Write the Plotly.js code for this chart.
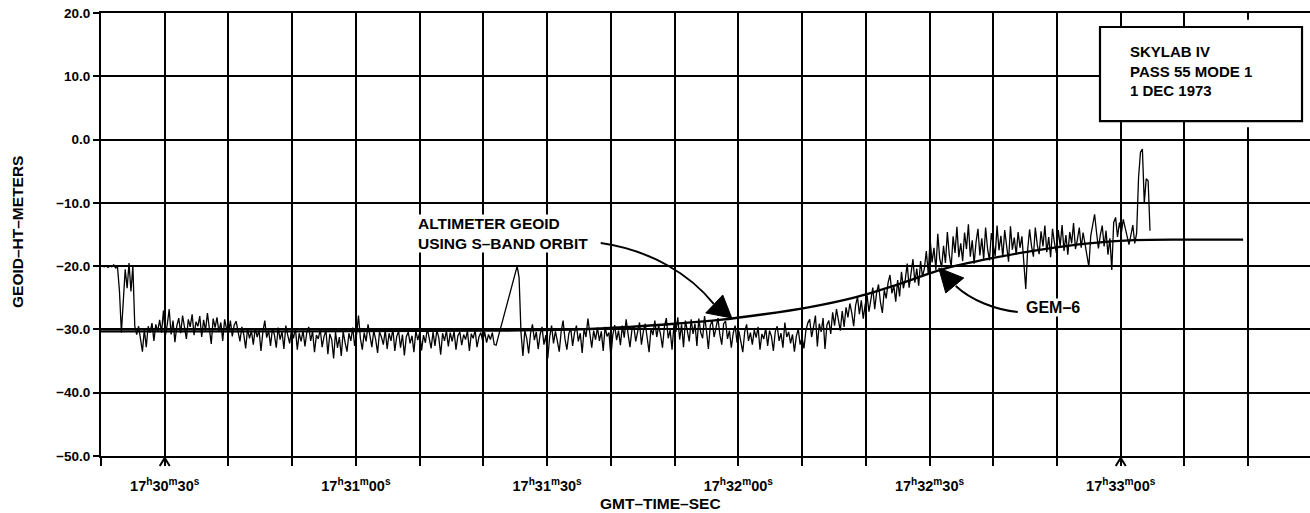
<!DOCTYPE html>
<html>
<head>
<meta charset="utf-8">
<script src="https://cdn.plot.ly/plotly-3.0.1.min.js"></script>
<style>html,body{margin:0;padding:0;background:#fff;}#chart{width:1310px;height:513px;}</style>
</head>
<body>
<div id="chart"></div>
<script>
// ---- DATA (seconds after 17h30m00s GMT, geoid height in metres) ----
// labelled x ticks (every 30 s); minor grid every 10 s from gridStart
const tickSec = [30, 60, 90, 120, 150, 180];
const tickText = ['17<sup>h</sup>30<sup>m</sup>30<sup>s</sup>', '17<sup>h</sup>31<sup>m</sup>00<sup>s</sup>',
  '17<sup>h</sup>31<sup>m</sup>30<sup>s</sup>', '17<sup>h</sup>32<sup>m</sup>00<sup>s</sup>',
  '17<sup>h</sup>32<sup>m</sup>30<sup>s</sup>', '17<sup>h</sup>33<sup>m</sup>00<sup>s</sup>'];
const gridStart = 20, gridStep = 10;
const yTicks = [-50, -40, -30, -20, -10, 0, 10, 20];
// ticks marked with a caret
const caretSec = [30, 180];

// GEM-6 model geoid
const gemSec = [20, 50, 80, 95, 103, 110, 117, 124, 131, 138, 145, 152, 160, 168, 175, 182, 190, 199.2];
const gemHt  = [-30.3, -30.3, -30.2, -30.0, -29.6, -29.1, -28.5, -27.6, -26.5, -25.0, -22.9, -20.5, -18.7, -17.3, -16.4, -15.9, -15.8, -15.8];

// Altimeter geoid using S-band orbit, sampled every 0.3 s from 20.2 s
const altStart = 20.2, altStep = 0.3;
const alt1 = [ // 20.2 - 50.2 s
 -20.0,-20.1,-19.9,-20.2,-20.0,-20.1,-19.8,-20.3,-20.2,-24.0,
 -30.5,-25.0,-20.5,-23.5,-19.5,-24.0,-20.0,-29.5,-30.8,-29.5,
 -31.5,-33.5,-30.0,-32.8,-29.5,-30.5,-29.0,-31.8,-29.2,-30.3,
 -28.5,-30.5,-27.0,-31.0,-29.2,-26.8,-30.8,-28.6,-32.0,-29.4,
 -28.2,-30.6,-27.8,-29.8,-31.5,-28.4,-29.6,-27.6,-30.9,-28.8,
 -29.5,-27.9,-31.2,-28.5,-30.2,-27.4,-29.8,-32.3,-28.3,-29.7,
 -28.1,-30.4,-28.9,-31.8,-28.4,-29.9,-30.6,-28.6,-31.1,-29.3,
 -28.7,-30.3,-31.9,-29.6,-30.8,-33.0,-29.9,-31.4,-30.2,-32.4,
 -29.8,-31.2,-30.1,-33.4,-30.4,-28.6,-31.3,-30.2,-32.6,-29.9,
 -30.8,-32.9,-29.7,-31.6,-30.3,-33.1,-29.4,-30.9,-32.2,-30.1];
const alt2 = [ // 50.2 - 80.2 s
 -31.4,-29.8,-33.2,-30.6,-31.9,-30.2,-32.7,-30.4,-29.6,-31.8,
 -30.3,-33.6,-30.9,-31.5,-29.9,-32.8,-31.1,-30.2,-33.9,-30.7,
 -31.6,-34.6,-30.4,-32.9,-31.2,-34.2,-30.3,-32.1,-33.5,-30.6,
 -31.8,-29.7,-32.6,-30.8,-27.8,-31.4,-33.2,-30.5,-31.9,-29.2,
 -30.9,-32.8,-30.2,-31.6,-33.7,-30.4,-31.2,-32.4,-30.1,-33.1,
 -30.6,-31.8,-29.9,-33.4,-31.1,-30.3,-32.9,-30.8,-34.1,-31.2,
 -30.4,-32.2,-31.0,-33.6,-30.2,-31.7,-30.5,-33.3,-30.9,-32.1,
 -29.8,-31.5,-33.0,-30.4,-32.6,-30.1,-31.3,-34.0,-30.6,-31.8,
 -30.2,-32.7,-30.5,-31.9,-30.3,-33.2,-31.0,-30.4,-32.5,-30.8,
 -31.6,-30.2,-33.4,-30.7,-31.4,-30.1,-32.8,-31.2,-30.5,-31.9];
const alt3 = [ // 80.2 - 110.2 s
 -30.4,-32.1,-30.8,-31.6,-30.5,-32.4,-32.5,-31.3,-30.2,-29.1,
 -28.0,-26.9,-25.8,-24.7,-23.5,-22.4,-21.3,-20.0,-21.8,-30.5,
 -34.2,-30.2,-31.4,-33.8,-30.6,-29.2,-31.7,-30.4,-33.1,-30.8,
 -29.6,-32.4,-30.9,-34.6,-31.2,-29.4,-32.2,-30.3,-31.8,-33.5,
 -30.4,-28.6,-31.5,-33.2,-30.7,-29.8,-32.6,-30.5,-29.4,-31.9,
 -30.6,-33.7,-29.9,-31.2,-28.3,-30.8,-32.9,-30.2,-31.6,-29.7,
 -31.8,-30.3,-33.4,-29.6,-31.1,-30.5,-34.3,-30.9,-29.3,-31.7,
 -30.2,-32.5,-29.4,-31.3,-28.4,-30.7,-32.8,-30.1,-29.5,-31.9,
 -30.6,-28.9,-32.4,-30.3,-29.1,-31.5,-33.6,-29.8,-30.9,-28.6,
 -31.2,-29.4,-30.8,-32.9,-29.6,-28.2,-31.4,-30.1,-33.2,-29.3];
const alt4 = [ // 110.2 - 140.2 s
 -30.4,-28.1,-31.6,-29.2,-32.8,-28.6,-30.3,-31.9,-28.4,-30.7,
 -29.1,-32.6,-28.3,-30.5,-31.4,-27.9,-30.2,-33.1,-29.4,-28.6,
 -31.2,-29.5,-28.2,-30.8,-32.4,-29.1,-28.7,-31.5,-30.2,-32.9,
 -30.6,-29.4,-32.1,-30.3,-31.7,-33.6,-30.4,-29.2,-31.8,-30.5,
 -32.4,-30.1,-31.3,-29.6,-33.2,-30.7,-31.5,-29.8,-32.6,-30.2,
 -31.1,-33.4,-30.3,-29.5,-31.8,-30.6,-32.9,-28.9,-31.2,-30.4,
 -32.2,-30.8,-33.5,-31.1,-29.9,-32.4,-31.3,-33.0,-30.2,-29.0,
 -28.4,-31.2,-29.6,-27.8,-32.7,-29.1,-30.4,-28.2,-33.1,-29.3,
 -28.6,-30.7,-27.3,-29.4,-26.8,-28.9,-30.2,-27.1,-29.6,-26.5,
 -28.1,-25.9,-27.4,-29.5,-26.2,-24.9,-27.6,-25.4,-28.3,-26.1];
const alt5 = [ // 140.2 - 170.2 s
 -24.6,-27.2,-25.3,-23.4,-26.8,-24.2,-22.9,-25.7,-27.4,-23.8,
 -25.1,-22.6,-21.4,-24.3,-23.1,-25.6,-22.2,-24.8,-20.9,-23.5,
 -22.1,-19.6,-23.4,-21.2,-18.9,-22.6,-20.4,-23.1,-19.2,-21.7,
 -20.3,-17.6,-21.2,-15.8,-19.4,-17.1,-20.6,-14.9,-18.8,-20.2,
 -16.8,-19.5,-14.6,-18.2,-20.1,-15.3,-17.9,-13.8,-18.6,-16.4,
 -19.2,-14.7,-17.3,-13.4,-18.5,-15.9,-19.6,-16.2,-14.1,-18.3,
 -15.6,-18.9,-13.9,-17.2,-19.1,-14.8,-16.7,-18.4,-13.6,-17.5,
 -15.2,-18.6,-14.3,-16.9,-19.3,-13.7,-17.4,-15.5,-18.2,-14.6,
 -17.1,-15.3,-18.8,-23.6,-17.4,-14.2,-16.8,-18.5,-13.9,-16.6,
 -18.1,-14.5,-16.9,-13.6,-17.8,-15.4,-18.6,-14.1,-16.3,-17.9];
const alt6 = [ // 170.2 - 184.6 s
 -14.3,-16.8,-13.5,-17.6,-15.1,-18.2,-14.6,-16.4,-13.2,-17.3,
 -15.8,-13.9,-17.1,-14.7,-16.5,-18.3,-20.1,-15.2,-13.4,-11.8,
 -14.6,-17.2,-15.1,-13.6,-16.9,-14.4,-18.2,-15.6,-20.6,-13.1,
 -12.3,-15.4,-13.1,-14.8,-12.6,-13.9,-15.2,-16.6,-15.1,-13.5,
 -16.4,-14.8,-6.0,-2.0,-1.5,-10.0,-6.2,-6.5,-14.4];

const altHt = [].concat(alt1, alt2, alt3, alt4, alt5, alt6);

// ---- CHART ----
const BLACK = '#000';
const F = 'Liberation Sans, Arial, Helvetica, sans-serif';
const bold = (size) => ({family:F, size:size, color:BLACK, weight:'bold'});

const traces = [
  {type:'scatter', mode:'lines', name:'GEM-6', x:gemSec, y:gemHt,
   line:{color:BLACK, width:2.3, shape:'spline'}, hoverinfo:'skip'},
  {type:'scatter', mode:'lines', name:'Altimeter geoid', x0:altStart, dx:altStep, y:altHt,
   line:{color:BLACK, width:1.3}, hoverinfo:'skip'}
];

const shapes = [
  // curved leader: altimeter geoid
  {type:'path', xref:'x', yref:'y', path:'M98.41,-16.34 C106.26,-17.45 112.54,-21.40 116.14,-25.98',
   line:{color:BLACK, width:2}},
  {type:'path', xref:'x', yref:'y', path:'M118.97,-28.19 L117.56,-24.56 L114.89,-27.40 Z',
   fillcolor:BLACK, line:{color:BLACK, width:1}},
  // curved leader: GEM-6
  {type:'path', xref:'x', yref:'y', path:'M163.85,-27.24 C160.4,-26.93 156.47,-25.35 154.12,-23.13',
   line:{color:BLACK, width:2}},
  {type:'path', xref:'x', yref:'y', path:'M151.45,-20.29 L152.55,-24.24 L155.37,-21.87 Z',
   fillcolor:BLACK, line:{color:BLACK, width:1}},
  // label box
  {type:'rect', xref:'paper', yref:'paper', x0:0.9, x1:1.0, y0:0.742, y1:0.985,
   fillcolor:'#fff', line:{width:0}, layer:'above'},
  {type:'rect', xref:'paper', yref:'paper', x0:0.8263, x1:0.9934, y0:0.756, y1:0.9684,
   fillcolor:'#fff', line:{color:BLACK, width:2.2}, layer:'above'}
];
// caret marks under two ticks (paper y so they are not clipped)
caretSec.forEach(s => shapes.push({type:'path', xref:'x', yref:'paper', xsizemode:'pixel', ysizemode:'pixel',
  xanchor:s, yanchor:0, path:'M-5,-10 L0,-2 L5,-10', line:{color:BLACK, width:2}, layer:'above'}));

const annotations = [
  {xref:'x', yref:'y', x:69.6, y:-14.9, xanchor:'left', yanchor:'middle', align:'left', showarrow:false,
   bgcolor:'#fff', borderpad:0,
   text:'ALTIMETER GEOID<br>USING S\u2013BAND ORBIT', font:bold(15.5)},
  {xref:'x', yref:'y', x:165.0, y:-26.6, xanchor:'left', yanchor:'middle', showarrow:false,
   bgcolor:'#fff', borderpad:0,
   text:'GEM\u20136', font:bold(16)},
  {xref:'paper', yref:'paper', x:0.8495, y:0.868, xanchor:'left', yanchor:'middle', align:'left', showarrow:false,
   text:'SKYLAB IV<br>PASS 55 MODE 1<br>1 DEC 1973', font:bold(15)},
  {xref:'paper', yref:'paper', x:0.4624, y:0, yshift:-47, xanchor:'center', yanchor:'middle', showarrow:false,
   text:'GMT\u2013TIME\u2013SEC', font:bold(15.5)},
  {xref:'paper', yref:'paper', x:-0.0695, y:0.5056, xanchor:'center', yanchor:'middle', textangle:-90, showarrow:false,
   text:'GEOID\u2013HT\u2013METERS', font:bold(15.5)}
];

const layout = {
  width:1310, height:513,
  margin:{l:101, r:0, t:13, b:57},
  paper_bgcolor:'#fff', plot_bgcolor:'#fff',
  showlegend:false,
  font:bold(13),
  xaxis:{range:[20, 209.7], tickmode:'array', tickvals:tickSec, ticktext:tickText,
    showgrid:true, gridcolor:BLACK, gridwidth:2, zeroline:false,
    showline:true, linecolor:BLACK, linewidth:2, mirror:true,
    ticks:'outside', ticklen:8, tickwidth:2, tickcolor:BLACK, ticklabelstandoff:8,
    tickfont:bold(14.5),
    minor:{tick0:gridStart, dtick:gridStep, showgrid:true, gridcolor:BLACK, gridwidth:2,
      ticks:'outside', ticklen:8, tickwidth:2, tickcolor:BLACK}},
  yaxis:{range:[-50, 20], tickmode:'array', tickvals:yTicks, tickformat:'.1f',
    showgrid:true, gridcolor:BLACK, gridwidth:2, zeroline:false,
    showline:true, linecolor:BLACK, linewidth:2,
    ticks:'outside', ticklen:6, tickwidth:2, tickcolor:BLACK,
    tickfont:bold(13.5)},
  shapes:shapes,
  annotations:annotations
};

Plotly.newPlot('chart', traces, layout, {staticPlot:true, displayModeBar:false});
</script>
</body>
</html>
